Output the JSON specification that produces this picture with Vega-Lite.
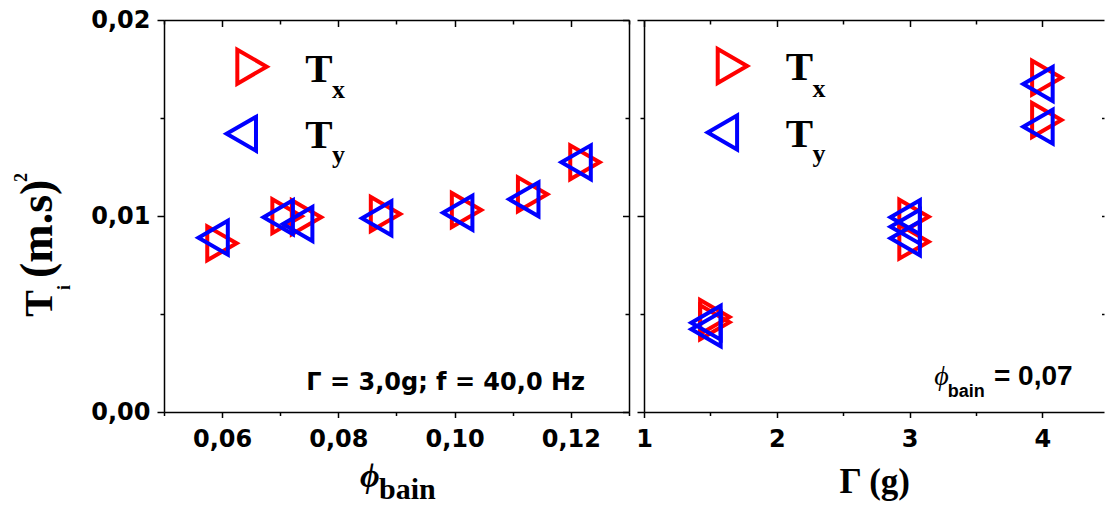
{
  "$schema": "https://vega.github.io/schema/vega-lite/v6.json",
  "background": "white",
  "padding": {"left": 12, "top": 8, "right": 0, "bottom": 0},
  "spacing": 5,
  "config": {
    "view": {"stroke": null},
    "axis": {"grid": false, "domainColor": "black", "domainWidth": 1.5, "tickColor": "black", "tickWidth": 1.5, "labelColor": "black", "labelFont": "DejaVu Sans", "labelFontWeight": "bold", "labelFontSize": 24, "labelOverlap": false, "labelFlush": false, "labelBound": false, "title": null}
  },
  "datasets": {
    "phi": [
      {"phi_bain": 0.05921, "component": "Tx", "T": 0.008607},
      {"phi_bain": 0.07041, "component": "Tx", "T": 0.00999},
      {"phi_bain": 0.07376, "component": "Tx", "T": 0.009934},
      {"phi_bain": 0.08735, "component": "Tx", "T": 0.010102},
      {"phi_bain": 0.10129, "component": "Tx", "T": 0.010306},
      {"phi_bain": 0.11266, "component": "Tx", "T": 0.011107},
      {"phi_bain": 0.12166, "component": "Tx", "T": 0.01274},
      {"phi_bain": 0.05921, "component": "Ty", "T": 0.008893},
      {"phi_bain": 0.07041, "component": "Ty", "T": 0.009934},
      {"phi_bain": 0.07376, "component": "Ty", "T": 0.009592},
      {"phi_bain": 0.08735, "component": "Ty", "T": 0.009883},
      {"phi_bain": 0.10129, "component": "Ty", "T": 0.010168},
      {"phi_bain": 0.11266, "component": "Ty", "T": 0.010852},
      {"phi_bain": 0.12166, "component": "Ty", "T": 0.01274}
    ],
    "gamma": [
      {"Gamma": 1.5, "component": "Tx", "T": 0.004847},
      {"Gamma": 1.5, "component": "Tx", "T": 0.004577},
      {"Gamma": 3.0, "component": "Tx", "T": 0.009964},
      {"Gamma": 3.0, "component": "Tx", "T": 0.008689},
      {"Gamma": 4.0, "component": "Tx", "T": 0.017056},
      {"Gamma": 4.0, "component": "Tx", "T": 0.014898},
      {"Gamma": 1.5, "component": "Ty", "T": 0.004556},
      {"Gamma": 1.5, "component": "Ty", "T": 0.004219},
      {"Gamma": 3.0, "component": "Ty", "T": 0.009934},
      {"Gamma": 3.0, "component": "Ty", "T": 0.009454},
      {"Gamma": 3.0, "component": "Ty", "T": 0.008862},
      {"Gamma": 4.0, "component": "Ty", "T": 0.016735},
      {"Gamma": 4.0, "component": "Ty", "T": 0.014556}
    ]
  },
  "hconcat": [
    {
      "width": 465,
      "height": 392,
      "data": {"name": "phi"},
      "resolve": {"axis": {"x": "independent", "y": "independent"}},
      "layer": [
        {
          "transform": [{"filter": "datum.component == 'Tx'"}],
          "mark": {"type": "point", "shape": "triangle-right", "filled": false, "size": 1150, "strokeWidth": 4, "color": "#FF0000", "opacity": 1, "xOffset": 4.4},
          "encoding": {
            "x": {"field": "phi_bain", "type": "quantitative", "scale": {"domain": [0.05, 0.13], "nice": false, "zero": false},
              "axis": {"orient": "bottom", "values": [0.05, 0.06, 0.07, 0.08, 0.09, 0.1, 0.11, 0.12, 0.13],
                "labelExpr": "round(datum.value*100) % 2 == 0 ? replace(format(datum.value, '.2f'), '.', ',') : ''",
                "tickSize": {"condition": {"test": "round(datum.value*100) % 2 == 1", "value": 3.5}, "value": 5.5},
                "labelPadding": 10}},
            "y": {"field": "T", "type": "quantitative", "scale": {"domain": [0, 0.02], "nice": false, "zero": false},
              "axis": {"orient": "left", "values": [0, 0.005, 0.01, 0.015, 0.02],
                "labelExpr": "round(datum.value*1000) % 10 == 0 ? replace(format(datum.value, '.2f'), '.', ',') : ''",
                "tickSize": {"condition": {"test": "round(datum.value*1000) % 10 == 5", "value": 4}, "value": 7},
                "labelPadding": 7}}
          }
        },
        {
          "transform": [{"filter": "datum.component == 'Ty'"}],
          "mark": {"type": "point", "shape": "triangle-left", "filled": false, "size": 1150, "strokeWidth": 4, "color": "#0000FF", "opacity": 1, "xOffset": -4.4},
          "encoding": {
            "x": {"field": "phi_bain", "type": "quantitative",
              "axis": {"orient": "top", "values": [0.05, 0.06, 0.07, 0.08, 0.09, 0.1, 0.11, 0.12, 0.13], "labels": false,
                "tickSize": {"condition": {"test": "round(datum.value*100) % 2 == 1", "value": -4}, "value": -6.5}}},
            "y": {"field": "T", "type": "quantitative",
              "axis": {"orient": "right", "values": [0, 0.005, 0.01, 0.015, 0.02], "labels": false,
                "tickSize": {"condition": {"test": "round(datum.value*1000) % 10 == 5", "value": -4}, "value": -6.5}}}
          }
        },
        {
          "data": {"values": [{}]},
          "mark": {"type": "point", "shape": "triangle-right", "filled": false, "size": 1150, "strokeWidth": 4, "color": "#FF0000", "opacity": 1},
          "encoding": {"x": {"datum": 0.06514, "type": "quantitative", "axis": null}, "y": {"datum": 0.017617, "type": "quantitative", "axis": null}}
        },
        {
          "data": {"values": [{}]},
          "mark": {"type": "point", "shape": "triangle-left", "filled": false, "size": 1150, "strokeWidth": 4, "color": "#0000FF", "opacity": 1},
          "encoding": {"x": {"datum": 0.0633, "type": "quantitative", "axis": null}, "y": {"datum": 0.014194, "type": "quantitative", "axis": null}}
        },
        {
          "data": {"values": [{}]},
          "mark": {"type": "text", "text": "T", "font": "Liberation Serif", "fontWeight": "bold", "fontSize": 41, "align": "left", "baseline": "alphabetic", "color": "black"},
          "encoding": {"x": {"datum": 0.07431, "type": "quantitative", "axis": null}, "y": {"datum": 0.016852, "type": "quantitative", "axis": null}}
        },
        {
          "data": {"values": [{}]},
          "mark": {"type": "text", "text": "x", "font": "Liberation Serif", "fontWeight": "bold", "fontSize": 26, "align": "left", "baseline": "alphabetic", "color": "black"},
          "encoding": {"x": {"datum": 0.0789, "type": "quantitative", "axis": null}, "y": {"datum": 0.016005, "type": "quantitative", "axis": null}}
        },
        {
          "data": {"values": [{}]},
          "mark": {"type": "text", "text": "T", "font": "Liberation Serif", "fontWeight": "bold", "fontSize": 41, "align": "left", "baseline": "alphabetic", "color": "black"},
          "encoding": {"x": {"datum": 0.07431, "type": "quantitative", "axis": null}, "y": {"datum": 0.013454, "type": "quantitative", "axis": null}}
        },
        {
          "data": {"values": [{}]},
          "mark": {"type": "text", "text": "y", "font": "Liberation Serif", "fontWeight": "bold", "fontSize": 26, "align": "left", "baseline": "alphabetic", "color": "black"},
          "encoding": {"x": {"datum": 0.0789, "type": "quantitative", "axis": null}, "y": {"datum": 0.012704, "type": "quantitative", "axis": null}}
        },
        {
          "data": {"values": [{}]},
          "mark": {"type": "text", "text": "Γ = 3,0g; f = 40,0 Hz", "font": "DejaVu Sans", "fontWeight": "bold", "fontSize": 24, "align": "right", "baseline": "alphabetic", "color": "black"},
          "encoding": {"x": {"datum": 0.12243, "type": "quantitative", "axis": null}, "y": {"datum": 0.001122, "type": "quantitative", "axis": null}}
        },
        {
          "data": {"values": [{}]},
          "mark": {"type": "text", "text": "ϕ", "font": "Liberation Serif", "fontWeight": "bold", "fontStyle": "italic", "fontSize": 34, "align": "left", "baseline": "alphabetic", "color": "black"},
          "encoding": {"x": {"datum": 0.08372, "type": "quantitative", "axis": null}, "y": {"datum": -0.003827, "type": "quantitative", "axis": null}}
        },
        {
          "data": {"values": [{}]},
          "mark": {"type": "text", "text": "bain", "font": "Liberation Serif", "fontWeight": "bold", "fontSize": 30, "align": "left", "baseline": "alphabetic", "color": "black"},
          "encoding": {"x": {"datum": 0.08699, "type": "quantitative", "axis": null}, "y": {"datum": -0.004439, "type": "quantitative", "axis": null}}
        },
        {
          "data": {"values": [{}]},
          "mark": {"type": "text", "text": "T", "font": "Liberation Serif", "fontWeight": "bold", "fontSize": 40, "align": "left", "baseline": "alphabetic", "angle": 270, "color": "black"},
          "encoding": {"x": {"datum": 0.03073, "type": "quantitative", "axis": null}, "y": {"datum": 0.004862, "type": "quantitative", "axis": null}}
        },
        {
          "data": {"values": [{}]},
          "mark": {"type": "text", "text": "i", "font": "Liberation Serif", "fontWeight": "bold", "fontSize": 18, "align": "left", "baseline": "alphabetic", "angle": 270, "color": "black"},
          "encoding": {"x": {"datum": 0.03383, "type": "quantitative", "axis": null}, "y": {"datum": 0.006224, "type": "quantitative", "axis": null}}
        },
        {
          "data": {"values": [{}]},
          "mark": {"type": "text", "text": "(m.s)", "font": "Liberation Serif", "fontWeight": "bold", "fontSize": 46, "align": "left", "baseline": "alphabetic", "angle": 270, "color": "black"},
          "encoding": {"x": {"datum": 0.03073, "type": "quantitative", "axis": null}, "y": {"datum": 0.006837, "type": "quantitative", "axis": null}}
        },
        {
          "data": {"values": [{}]},
          "mark": {"type": "text", "text": "2", "font": "Liberation Serif", "fontWeight": "bold", "fontSize": 18, "align": "left", "baseline": "alphabetic", "angle": 270, "color": "black"},
          "encoding": {"x": {"datum": 0.02643, "type": "quantitative", "axis": null}, "y": {"datum": 0.011735, "type": "quantitative", "axis": null}}
        }
      ]
    },
    {
      "width": 460,
      "height": 392,
      "data": {"name": "gamma"},
      "resolve": {"axis": {"x": "independent", "y": "independent"}},
      "layer": [
        {
          "transform": [{"filter": "datum.component == 'Tx'"}],
          "mark": {"type": "point", "shape": "triangle-right", "filled": false, "size": 1150, "strokeWidth": 4, "color": "#FF0000", "opacity": 1, "xOffset": 4.4},
          "encoding": {
            "x": {"field": "Gamma", "type": "quantitative", "scale": {"domain": [1, 4.4639], "nice": false, "zero": false},
              "axis": {"orient": "bottom", "values": [1, 1.5, 2, 2.5, 3, 3.5, 4],
                "labelExpr": "datum.value % 1 == 0 ? format(datum.value, 'd') : ''",
                "tickSize": {"condition": {"test": "datum.value % 1 != 0", "value": 3.5}, "value": 5.5},
                "labelPadding": 10}},
            "y": {"field": "T", "type": "quantitative", "scale": {"domain": [0, 0.02], "nice": false, "zero": false},
              "axis": {"orient": "left", "values": [0, 0.005, 0.01, 0.015, 0.02], "labels": false,
                "tickSize": {"condition": {"test": "round(datum.value*1000) % 10 == 5", "value": 4}, "value": 7}}}
          }
        },
        {
          "transform": [{"filter": "datum.component == 'Ty'"}],
          "mark": {"type": "point", "shape": "triangle-left", "filled": false, "size": 1150, "strokeWidth": 4, "color": "#0000FF", "opacity": 1, "xOffset": -4.4},
          "encoding": {
            "x": {"field": "Gamma", "type": "quantitative",
              "axis": {"orient": "top", "values": [1, 1.5, 2, 2.5, 3, 3.5, 4], "labels": false,
                "tickSize": {"condition": {"test": "datum.value % 1 != 0", "value": -4}, "value": -6.5}}},
            "y": {"field": "T", "type": "quantitative",
              "axis": {"orient": "right", "values": [0.005, 0.01, 0.015], "labels": false, "domain": false, "tickSize": -2.5}}
          }
        },
        {
          "data": {"values": [{}]},
          "mark": {"type": "point", "shape": "triangle-right", "filled": false, "size": 1150, "strokeWidth": 4, "color": "#FF0000", "opacity": 1},
          "encoding": {"x": {"datum": 1.6657, "type": "quantitative", "axis": null}, "y": {"datum": 0.017653, "type": "quantitative", "axis": null}}
        },
        {
          "data": {"values": [{}]},
          "mark": {"type": "point", "shape": "triangle-left", "filled": false, "size": 1150, "strokeWidth": 4, "color": "#0000FF", "opacity": 1},
          "encoding": {"x": {"datum": 1.5904, "type": "quantitative", "axis": null}, "y": {"datum": 0.01426, "type": "quantitative", "axis": null}}
        },
        {
          "data": {"values": [{}]},
          "mark": {"type": "text", "text": "T", "font": "Liberation Serif", "fontWeight": "bold", "fontSize": 41, "align": "left", "baseline": "alphabetic", "color": "black"},
          "encoding": {"x": {"datum": 2.067, "type": "quantitative", "axis": null}, "y": {"datum": 0.016939, "type": "quantitative", "axis": null}}
        },
        {
          "data": {"values": [{}]},
          "mark": {"type": "text", "text": "x", "font": "Liberation Serif", "fontWeight": "bold", "fontSize": 26, "align": "left", "baseline": "alphabetic", "color": "black"},
          "encoding": {"x": {"datum": 2.2681, "type": "quantitative", "axis": null}, "y": {"datum": 0.016087, "type": "quantitative", "axis": null}}
        },
        {
          "data": {"values": [{}]},
          "mark": {"type": "text", "text": "T", "font": "Liberation Serif", "fontWeight": "bold", "fontSize": 41, "align": "left", "baseline": "alphabetic", "color": "black"},
          "encoding": {"x": {"datum": 2.067, "type": "quantitative", "axis": null}, "y": {"datum": 0.013536, "type": "quantitative", "axis": null}}
        },
        {
          "data": {"values": [{}]},
          "mark": {"type": "text", "text": "y", "font": "Liberation Serif", "fontWeight": "bold", "fontSize": 26, "align": "left", "baseline": "alphabetic", "color": "black"},
          "encoding": {"x": {"datum": 2.2681, "type": "quantitative", "axis": null}, "y": {"datum": 0.01277, "type": "quantitative", "axis": null}}
        },
        {
          "data": {"values": [{}]},
          "mark": {"type": "text", "text": "Γ (g)", "font": "Liberation Serif", "fontWeight": "bold", "fontSize": 35, "align": "center", "baseline": "alphabetic", "color": "black"},
          "encoding": {"x": {"datum": 2.7372, "type": "quantitative", "axis": null}, "y": {"datum": -0.004148, "type": "quantitative", "axis": null}}
        },
        {
          "data": {"values": [{}]},
          "mark": {"type": "text", "text": "ϕ", "font": "Liberation Serif", "fontStyle": "italic", "fontSize": 28, "align": "left", "baseline": "alphabetic", "color": "black"},
          "encoding": {"x": {"datum": 3.186, "type": "quantitative", "axis": null}, "y": {"datum": 0.001378, "type": "quantitative", "axis": null}}
        },
        {
          "data": {"values": [{}]},
          "mark": {"type": "text", "text": "bain", "font": "Liberation Sans", "fontWeight": "bold", "fontSize": 18, "align": "left", "baseline": "alphabetic", "color": "black"},
          "encoding": {"x": {"datum": 3.2869, "type": "quantitative", "axis": null}, "y": {"datum": 0.000781, "type": "quantitative", "axis": null}}
        },
        {
          "data": {"values": [{}]},
          "mark": {"type": "text", "text": "= 0,07", "font": "Liberation Sans", "fontWeight": "bold", "fontSize": 28, "align": "left", "baseline": "alphabetic", "color": "black"},
          "encoding": {"x": {"datum": 3.6355, "type": "quantitative", "axis": null}, "y": {"datum": 0.001378, "type": "quantitative", "axis": null}}
        }
      ]
    }
  ]
}
